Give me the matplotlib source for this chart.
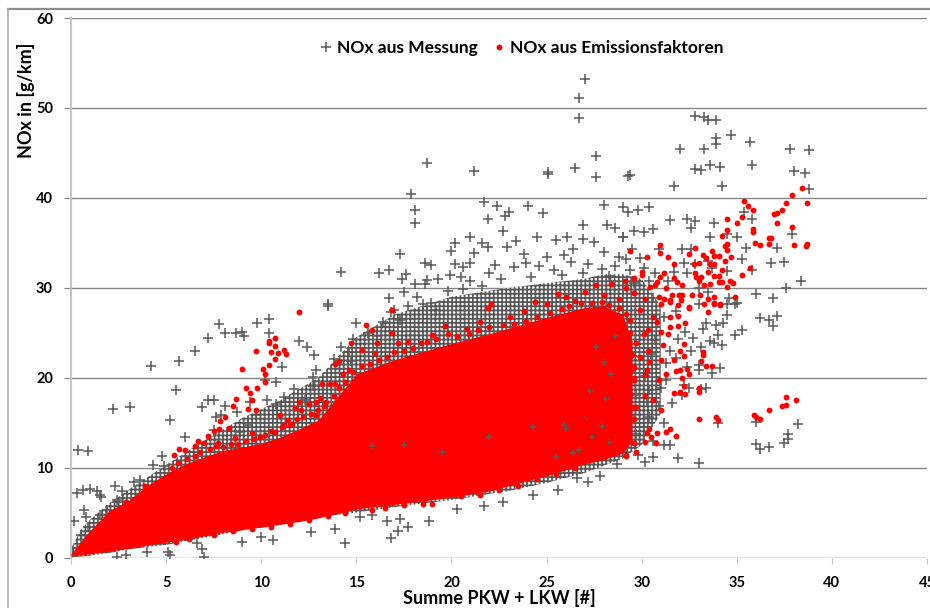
import numpy as np
import matplotlib.pyplot as plt
from matplotlib.lines import Line2D

plt.rcParams['font.family'] = ['Lato', 'DejaVu Sans']
plt.rcParams['font.weight'] = 'bold'
plt.rcParams['hatch.linewidth'] = 1.3

# Huelle der dichten Punktwolke
grau_x = [0, 0.5, 1, 2, 3, 5, 7, 9, 11, 13, 15, 17, 20, 23, 25, 27, 28, 29, 30, 31]
grau_unten = [0, 0.1, 0.2, 0.5, 0.9, 1.4, 2.2, 3.0, 3.6, 4.5, 5.0, 5.6, 6.4, 7.4, 8.3, 9.4, 10.2, 11, 12.5, 16]
grau_oben = [1, 3, 4.2, 6, 7.5, 10.3, 13, 15.5, 17.5, 20, 24.5, 27, 29, 30, 30.5, 31, 31.5, 31.5, 31, 28]

rot_x = [0, 0.3, 1, 2, 3, 4, 5, 6, 7, 8, 9, 10, 11, 12, 13, 15, 17, 20, 22, 25, 27, 28, 29, 29.5]
rot_unten = [0.2, 0.25, 0.4, 0.7, 1.0, 1.35, 1.7, 2.0, 2.4, 2.8, 3.1, 3.4, 3.7, 4.0, 4.4, 5.4, 5.9, 6.7, 7.4, 9.1, 10.4, 10.9, 11.6, 13]
rot_oben = [0.4, 1.2, 3, 5.2, 6.3, 8, 9.3, 10.4, 11.2, 11.9, 12.3, 12.7, 13.4, 14.3, 15.3, 20.4, 22, 23.8, 24.9, 26.7, 27.8, 28, 27, 24]

# NOx aus Messung, einzelne Punkte
mess_oben = [(27.0, 53.2), (26.7, 51.1), (26.7, 48.9), (27.6, 44.7), (26.5, 43.3), (27.6, 42.3), (29.3, 42.4),
             (25.1, 42.7), (25.1, 42.9), (18.7, 43.9), (21.2, 43.0), (17.9, 40.4), (18.1, 38.7), (18.1, 37.2),
             (21.7, 39.5), (22.4, 39.1), (21.9, 37.7), (22.8, 38.0), (23.0, 38.4), (24.0, 39.1), (24.8, 38.3),
             (28.0, 39.2), (26.9, 37.0), (28.2, 37.0), (28.6, 36.6), (22.7, 36.3), (21.0, 35.6), (20.2, 35.0),
             (21.6, 35.0), (21.9, 34.5), (23.4, 35.2), (22.9, 34.5), (24.5, 35.6), (25.5, 35.3), (26.1, 35.6),
             (26.9, 35.4), (27.5, 35.1), (29.0, 35.6), (20.0, 34.1), (21.2, 33.9), (26.4, 34.3), (25.9, 33.6),
             (23.8, 33.7), (25.0, 33.4), (28.0, 34.0), (28.8, 33.4), (17.3, 33.8), (18.6, 32.8), (18.9, 32.5),
             (20.2, 32.6), (21.0, 32.8), (20.6, 32.3), (22.3, 32.5), (23.3, 32.3), (14.2, 31.7), (16.2, 31.6),
             (16.7, 32.0), (17.6, 31.5), (17.4, 31.0), (18.7, 30.9), (19.3, 31.0), (19.9, 31.4), (18.1, 30.4),
             (18.6, 30.4), (20.5, 31.2), (21.0, 30.7), (16.7, 28.9), (17.5, 29.5), (13.5, 28.2), (22.0, 31.6),
             (23.9, 32.8), (24.6, 32.4), (25.4, 32.0), (26.3, 32.9), (27.2, 32.6), (27.9, 32.1), (28.6, 32.4),
             (29.4, 32.0), (22.6, 31.0), (24.2, 31.2), (25.8, 31.4), (26.9, 31.6), (28.3, 31.3), (19.8, 29.6),
             (20.6, 29.9), (21.6, 30.2), (18.2, 29.0), (18.9, 28.3), (17.0, 27.5), (15.0, 26.1), (16.4, 26.2),
             (17.3, 26.4), (16.8, 27.3), (17.7, 28.0), (13.5, 28.0), (14.8, 24.3), (14.2, 23.4), (13.8, 22.1),
             (14.7, 21.9), (14.6, 22.9), (18.5, 28.2), (15.6, 25.0), (16.1, 24.6), (19.2, 27.5)]
mess_rechts = [(32.8, 49.1), (33.3, 49.0), (33.5, 48.7), (33.9, 48.7), (33.9, 46.7), (33.9, 46.0), (34.7, 47.0),
               (35.7, 46.2), (32.0, 45.4), (33.3, 45.4), (37.8, 45.4), (38.8, 45.3), (32.8, 43.2), (33.1, 43.1),
               (33.6, 43.6), (34.1, 43.4), (35.8, 43.6), (38.0, 43.0), (38.6, 42.8), (38.8, 41.0), (29.4, 42.5),
               (31.7, 41.3), (34.2, 41.3), (29.3, 38.4), (29.8, 38.6), (30.4, 39.0), (29.0, 39.0), (31.5, 37.5),
               (32.4, 37.7), (32.8, 37.4), (33.8, 37.2), (32.6, 36.6), (35.4, 38.4), (35.8, 37.7), (29.6, 36.3),
               (30.1, 36.2), (30.6, 36.5), (29.0, 35.6), (33.6, 35.6), (34.5, 36.0), (35.0, 35.6), (37.9, 36.0),
               (29.5, 34.3), (30.9, 34.3), (32.1, 34.3), (32.6, 34.3), (35.5, 34.4), (37.1, 34.4), (29.9, 33.3),
               (29.2, 33.2), (32.2, 32.8), (33.5, 33.0), (35.3, 33.2), (36.8, 32.8), (37.5, 32.9), (30.1, 32.2),
               (30.7, 31.6), (31.7, 31.7), (32.4, 31.6), (32.8, 32.6), (33.7, 32.2), (34.5, 31.9), (35.8, 32.0),
               (38.4, 30.7), (37.6, 30.0), (36.0, 29.3), (36.9, 28.9), (34.6, 28.9), (35.0, 28.3), (33.5, 29.5),
               (33.0, 30.0), (31.4, 30.8), (30.4, 30.7), (29.6, 30.5), (30.6, 28.9), (33.0, 28.2), (34.5, 28.2),
               (34.9, 28.2), (34.5, 27.0), (36.2, 26.6), (36.7, 26.4), (37.1, 26.9), (36.9, 25.8), (33.4, 26.1),
               (33.9, 25.9), (34.3, 26.1), (33.2, 25.4), (34.0, 24.7), (34.9, 24.7), (35.3, 25.3), (33.6, 24.1),
               (33.8, 23.9), (34.2, 23.6), (33.1, 23.4), (32.7, 24.4), (32.3, 25.1), (31.5, 23.0), (32.6, 23.0),
               (33.0, 21.4), (34.1, 21.1), (33.7, 20.5), (33.0, 20.8), (32.4, 21.2), (33.4, 18.8), (33.1, 18.7),
               (32.5, 18.8), (32.1, 18.1), (32.2, 19.2), (31.3, 19.7), (30.4, 18.6), (31.0, 18.8), (29.7, 18.1),
               (34.0, 15.0), (36.0, 15.1), (38.2, 14.8), (37.7, 13.7), (37.7, 13.2), (37.5, 12.7), (36.0, 12.6),
               (36.2, 12.1), (36.7, 12.3), (31.5, 12.5), (31.2, 12.5), (31.9, 11.1), (30.6, 11.2), (33.0, 10.5),
               (30.2, 10.6), (29.8, 11.4), (29.7, 13.7), (30.4, 15.6), (30.1, 14.5), (29.1, 12.3), (29.1, 15.6),
               (29.6, 15.4), (31.2, 26.8), (31.8, 27.4), (30.7, 24.2), (31.9, 24.3), (30.5, 22.6), (31.3, 21.6),
               (31.8, 22.2), (30.2, 20.2), (31.6, 17.2), (30.9, 16.8), (30.3, 17.3), (31.2, 15.0), (30.6, 13.0)]
mess_links = [(0.35, 12.0), (0.9, 11.8), (2.2, 16.5), (3.1, 16.7), (4.2, 21.3), (5.5, 18.6), (5.7, 21.8), (6.5, 23.0),
              (7.2, 24.4), (7.8, 26.0), (8.1, 25.0), (8.7, 25.0), (9.0, 25.1), (9.1, 24.6), (9.8, 26.1), (10.4, 26.5),
              (10.4, 25.0), (12.0, 24.1), (12.4, 23.4), (12.8, 22.5), (5.2, 15.3), (6.0, 13.4), (6.9, 16.7), (7.2, 17.5),
              (7.5, 17.5), (8.1, 16.9), (8.75, 16.2), (7.6, 15.6), (7.9, 15.8), (7.5, 14.2), (8.9, 14.0), (9.3, 14.7),
              (9.4, 17.3), (10.3, 17.5), (9.7, 15.8), (10.8, 17.1), (11.2, 17.9), (11.7, 18.7), (11.1, 21.2), (10.8, 19.5),
              (10.2, 19.7), (12.7, 20.1), (12.9, 20.8), (12.7, 19.1), (12.3, 17.5), (4.8, 11.3), (4.3, 10.3), (4.9, 10.2),
              (3.3, 8.4), (3.65, 8.6), (2.3, 8.0), (2.7, 7.4), (0.33, 7.2), (0.65, 7.5), (1.0, 7.6), (1.35, 7.4), (1.5, 6.9),
              (1.6, 6.7), (0.7, 5.3), (0.8, 4.5), (0.15, 4.1), (2.4, 6.4), (1.9, 5.3), (1.5, 4.7), (0.9, 3.4), (0.5, 2.5)]
mess_unten = [(5.2, 0.26), (5.1, 0.6), (7.0, 0.1), (6.9, 1.0), (10.6, 1.9), (9.0, 1.7), (6.6, 1.6), (12.6, 2.8),
              (10.0, 2.3), (2.9, 0.3), (2.4, 0.1), (4.0, 0.6), (14.4, 1.6), (16.8, 2.2), (17.2, 3.0), (18.8, 4.1),
              (17.7, 3.4), (16.6, 4.1), (13.9, 3.2), (21.7, 5.7), (20.3, 5.4), (15.8, 4.7), (17.3, 4.3), (15.2, 4.5),
              (22.7, 6.2), (24.3, 6.9), (25.6, 7.5), (27.2, 8.4), (26.6, 8.8), (28.7, 10.4), (27.8, 9.1)]
# graue Stellen, die in der roten Flaeche durchscheinen
mess_im_rot = [(25.9, 14.7), (26.4, 11.6), (24.3, 14.5), (17.5, 12.5), (27.1, 15.6), (28.0, 21.7), (27.6, 23.4),
               (26.0, 14.3), (26.7, 12.0), (27.3, 18.5), (28.1, 17.6), (28.4, 20.4), (27.9, 14.6), (25.5, 11.2),
               (22.0, 13.4), (19.5, 11.7), (15.8, 12.4), (28.6, 24.6), (28.3, 12.9), (27.4, 13.4)]

# NOx aus Emissionsfaktoren, einzelne Punkte
emis_links = [(12.0, 27.3), (10.7, 24.4), (10.4, 24.1), (10.4, 23.8), (10.7, 23.5), (9.7, 23.0), (10.5, 22.9), (11.2, 23.1),
              (11.3, 22.6), (10.9, 22.7), (10.7, 22.1), (10.1, 21.0), (10.4, 21.4), (9.0, 21.0), (10.2, 20.4), (10.2, 19.5),
              (9.2, 18.9), (9.8, 18.9), (9.4, 18.3), (8.7, 17.6), (9.5, 17.5), (8.5, 16.9), (9.3, 16.5), (9.7, 16.4),
              (7.85, 15.2), (8.1, 15.6), (7.8, 14.3), (8.3, 14.4), (7.5, 14.1), (7.2, 13.5), (6.7, 13.0), (6.5, 12.4),
              (6.0, 11.9), (5.7, 12.1), (5.4, 11.4), (7.0, 12.7), (7.75, 12.7), (8.6, 13.3), (9.5, 13.9), (10.5, 14.1),
              (11.0, 15.8), (12.0, 17.3), (11.8, 16.6), (12.5, 17.1), (12.9, 17.3), (11.4, 15.3), (12.1, 16.4), (11.2, 14.7),
              (11.6, 14.9), (9.95, 13.4), (3.9, 8.0), (2.9, 6.2)]
emis_mitte = [(16.9, 27.5), (15.5, 25.9), (15.8, 25.3), (16.9, 25.0), (16.1, 23.9), (14.7, 23.8), (17.2, 23.9), (17.7, 24.0),
              (18.7, 24.0), (19.0, 24.7), (19.65, 25.8), (19.8, 24.9), (20.8, 25.4), (21.5, 26.2), (21.9, 27.7), (22.1, 28.2),
              (23.1, 26.7), (23.8, 27.4), (25.0, 28.2), (14.1, 21.9), (13.9, 21.5), (15.3, 23.1), (16.0, 22.7), (13.6, 19.3),
              (13.9, 19.3), (13.2, 19.3), (13.1, 17.7), (14.6, 20.8), (14.3, 20.4), (29.6, 16.7), (28.7, 15.6), (29.6, 12.7),
              (29.2, 11.4), (29.0, 13.8), (28.7, 12.7), (28.2, 14.9), (27.1, 15.8), (26.0, 29.0), (27.0, 29.5), (28.0, 29.2),
              (28.8, 28.8), (26.5, 28.5), (29.2, 30.0), (25.6, 29.3), (24.4, 28.4), (27.6, 30.3), (28.4, 30.4), (29.0, 25.5),
              (29.3, 23.5), (29.5, 21.0), (29.3, 19.5), (28.9, 17.6), (28.4, 16.5)]
emis_rechts = [(33.0, 15.4), (33.9, 15.6), (34.0, 15.3), (35.9, 15.9), (36.0, 15.6), (36.2, 15.4), (36.7, 16.4), (37.4, 16.9),
               (37.6, 17.0), (37.6, 17.9), (38.1, 17.5), (31.5, 14.3), (31.3, 14.0), (31.8, 13.5), (30.4, 14.3), (30.3, 13.8),
               (30.8, 13.9), (30.5, 13.4), (30.2, 12.9), (30.75, 12.7), (29.6, 12.7), (29.7, 11.7), (29.2, 11.3), (31.0, 16.4),
               (30.6, 17.5), (30.2, 18.0), (31.7, 18.3), (32.0, 18.4), (32.3, 18.2), (33.0, 18.8), (33.0, 18.4), (32.2, 19.1),
               (32.1, 20.0), (30.9, 19.7), (32.5, 20.4), (31.3, 20.4), (32.0, 20.9), (32.4, 21.0), (31.8, 20.7), (33.4, 21.3),
               (33.7, 21.3), (33.1, 21.8), (33.2, 22.5), (33.2, 22.8), (32.2, 22.4), (31.7, 22.0), (31.0, 22.0), (32.0, 23.0),
               (31.1, 23.6), (32.2, 23.7), (31.4, 24.9), (31.9, 25.7), (32.3, 26.1), (31.5, 25.6), (30.6, 26.7), (31.5, 26.7),
               (31.9, 26.9), (31.0, 25.1), (30.35, 25.3), (30.8, 26.2), (33.5, 27.3), (34.1, 28.1), (33.8, 28.3), (33.3, 28.2),
               (32.5, 27.7), (31.9, 28.1), (31.0, 28.2), (31.5, 28.4), (29.9, 27.5), (29.4, 26.4), (30.1, 24.9), (29.7, 23.8),
               (30.35, 23.0), (29.9, 22.3), (30.4, 21.7), (29.6, 21.2), (30.3, 20.8), (29.6, 19.7), (30.2, 20.3), (29.4, 18.2),
               (29.7, 16.7), (29.2, 16.6), (29.6, 15.4), (29.3, 15.6)]
emis_oben = [(35.4, 39.7), (35.6, 39.1), (35.85, 38.7), (35.3, 37.9), (34.5, 37.6), (35.0, 37.2), (34.5, 36.4), (35.85, 36.5),
             (35.85, 36.2), (34.2, 35.7), (34.5, 34.9), (34.4, 34.6), (34.5, 34.2), (35.95, 35.0), (36.2, 34.8), (36.7, 35.5),
             (36.8, 35.5), (36.7, 34.9), (36.97, 38.2), (37.1, 38.3), (37.4, 38.7), (37.1, 37.2), (37.6, 39.4), (37.9, 40.3),
             (38.45, 41.1), (38.7, 39.4), (37.9, 36.8), (38.0, 34.7), (38.65, 34.6), (38.7, 34.9), (30.95, 34.8), (30.95, 33.9),
             (29.4, 34.1), (30.3, 33.4), (31.4, 33.4), (32.8, 34.4), (32.5, 33.7), (33.2, 33.6), (33.4, 33.3), (33.7, 34.1),
             (33.8, 33.5), (34.05, 33.5), (34.7, 33.4), (31.7, 32.6), (32.75, 32.6), (33.0, 32.7), (33.6, 32.6), (33.8, 32.6),
             (34.4, 33.0), (35.7, 32.2), (35.3, 31.4), (34.2, 32.0), (33.5, 31.7), (33.8, 31.3), (34.05, 31.3), (32.8, 31.6),
             (32.85, 31.2), (33.1, 31.2), (33.0, 30.8), (30.0, 31.8), (30.0, 31.4), (31.2, 31.6), (30.95, 31.2), (31.7, 31.1),
             (29.6, 31.1), (29.15, 30.7), (30.8, 30.6), (31.85, 30.6), (34.05, 30.6), (34.2, 30.6), (34.65, 30.7), (34.8, 30.5),
             (33.6, 30.4), (34.5, 30.1), (33.3, 30.3), (32.1, 30.3), (30.45, 30.1), (31.3, 30.0), (30.7, 30.3), (34.9, 29.0),
             (33.8, 29.0), (33.5, 28.8), (33.05, 29.2), (32.65, 29.2), (32.1, 29.2), (31.95, 29.2), (31.2, 28.8), (30.9, 29.0),
             (30.2, 28.8), (29.6, 29.4), (31.6, 29.2), (33.8, 28.2), (34.1, 28.2), (31.5, 28.6), (32.05, 28.6), (32.5, 27.9)]
# Punkte am Rand der roten Flaeche
emis_rand_oben = [(5.3, 10.0), (5.6, 10.5), (6.1, 10.9), (6.5, 11.3), (6.8, 11.7), (7.3, 12.1), (7.6, 12.4), (8.0, 12.3),
                  (8.4, 12.6), (8.8, 12.6), (9.2, 13.0), (9.6, 13.2), (10.2, 13.6), (10.7, 14.0), (11.1, 14.5), (11.5, 14.7),
                  (11.9, 15.4), (12.2, 15.6), (12.6, 16.0), (13.0, 16.4), (13.3, 16.8), (12.9, 15.9), (13.4, 17.3), (13.8, 18.0),
                  (14.1, 18.8), (14.4, 19.5), (14.8, 20.6), (15.3, 21.3), (15.7, 21.5), (16.2, 22.0), (16.6, 22.3), (17.0, 22.9),
                  (17.5, 23.0), (18.0, 23.3), (18.4, 23.8), (19.2, 24.3), (20.3, 24.6), (20.9, 24.9), (21.4, 25.3), (22.0, 25.6),
                  (22.7, 25.9), (23.3, 26.0), (23.9, 26.3), (24.5, 26.8), (25.2, 27.2), (25.8, 27.6), (26.2, 28.0), (26.8, 28.3),
                  (27.4, 28.3), (27.9, 28.4), (28.3, 28.1), (28.8, 27.7), (29.2, 27.1), (29.4, 25.0), (29.0, 24.5), (29.5, 22.5),
                  (29.3, 22.0), (29.6, 20.0), (29.2, 18.5), (29.1, 17.0), (28.6, 16.0), (28.8, 14.6), (28.3, 13.8), (28.0, 13.0),
                  (27.6, 12.4), (27.2, 11.7), (26.8, 11.1)]
emis_rand_unten = [(5.5, 1.7), (6.2, 2.1), (7.5, 2.5), (8.5, 2.9), (9.5, 3.2), (10.5, 3.4), (11.5, 3.7), (12.5, 4.2), (13.5, 4.6),
                   (14.4, 5.0), (15.8, 5.3), (16.5, 5.5), (17.5, 5.8), (18.5, 6.0), (19.0, 6.0), (20.5, 6.8), (21.5, 7.0),
                   (22.5, 7.5), (23.5, 8.0), (24.5, 8.7), (25.5, 9.3), (26.5, 10.0)]

y_ticks = [0, 10, 20, 30, 40, 50, 60]
x_ticks = [0, 5, 10, 15, 20, 25, 30, 35, 40, 45]
grau = '#595959'
rot = '#ff0000'

fig = plt.figure(figsize=(9.3, 6.08), dpi=100)
ax = fig.add_axes([71 / 930, 1 - 557.5 / 608, 856 / 930, 539.5 / 608])

ax.fill_between(grau_x, grau_unten, grau_oben, facecolor='white', edgecolor=grau, hatch='++++', linewidth=0, zorder=2)

mess = np.array(mess_oben + mess_rechts + mess_links + mess_unten)
ax.plot(mess[:, 0], mess[:, 1], '+', color=grau, ms=7.5, mew=1.1, zorder=3, label='NOx aus Messung')

ax.fill_between(rot_x, rot_unten, rot_oben, color=rot, linewidth=0, zorder=4)

specks = np.array(mess_im_rot)
ax.plot(specks[:, 0], specks[:, 1], '+', color=grau, ms=4, mew=1.1, zorder=4.5)

emis = np.array(emis_links + emis_mitte + emis_rechts + emis_oben + emis_rand_oben + emis_rand_unten)
ax.plot(emis[:, 0], emis[:, 1], 'o', color=rot, ms=4.2, mew=0, zorder=5, label='NOx aus Emissionsfaktoren')

ax.set_xlim(0, 45)
ax.set_ylim(0, 60)
ax.set_xticks(x_ticks)
ax.set_yticks(y_ticks)
ax.grid(axis='y', color='#868686', lw=1.0)
ax.set_axisbelow(True)
for s in ['top', 'right', 'bottom']:
    ax.spines[s].set_visible(False)
ax.spines['left'].set_color('#c4c4c4')
ax.spines['left'].set_linewidth(1.5)
ax.tick_params(axis='x', length=4, color='#c8c8c8', labelsize=10.5, pad=9)
ax.tick_params(axis='y', length=5, color='#868686', labelsize=10.5, pad=8)

fig.text(499 / 930, 1 - 598 / 608, 'Summe PKW + LKW [#]', ha='center', va='center', fontsize=13)
fig.text(26 / 930, 1 - 100 / 608, 'NOx in [g/km]', ha='center', va='center', rotation=90, fontsize=13)

ax.legend(loc='center', bbox_to_anchor=(520.5 / 930, 1 - 48 / 608), bbox_transform=fig.transFigure, ncol=2,
          frameon=False, fontsize=12.5, handletextpad=0.1, columnspacing=0.77, handlelength=1.0)

# Rahmen vom Originalbild
fig.add_artist(Line2D([8 / 930, 1], [1 - 9 / 608, 1 - 9 / 608], color='#8c8c8c', lw=1.6))
fig.add_artist(Line2D([8 / 930, 8 / 930], [0, 1 - 9 / 608], color='#b0b0b0', lw=1.2))

fig.savefig('out.png', dpi=100)
